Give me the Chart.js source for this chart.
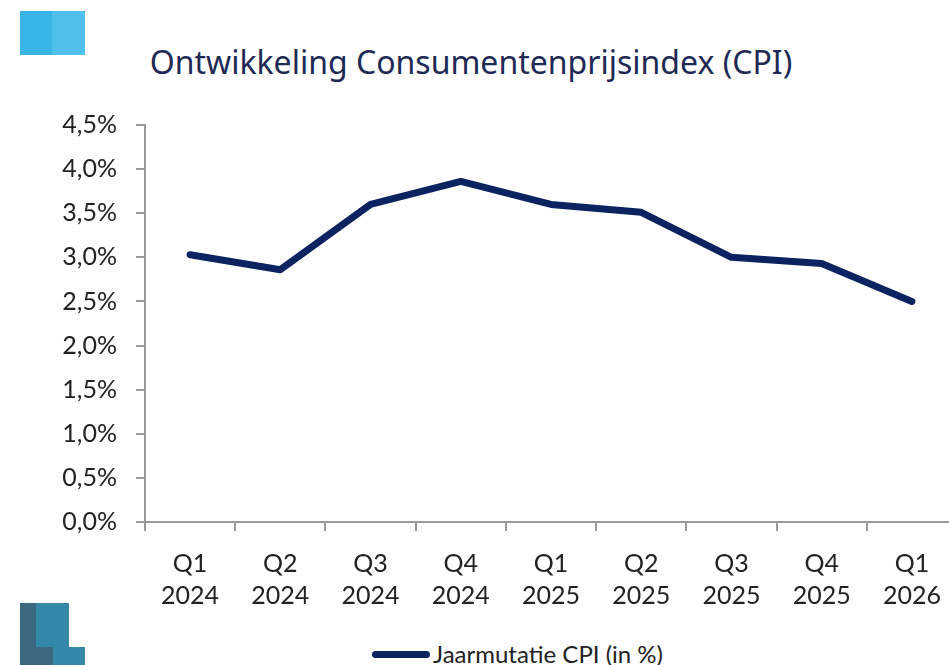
<!DOCTYPE html>
<html>
<head>
<meta charset="utf-8">
<script src="https://cdn.jsdelivr.net/npm/chart.js@4/dist/chart.umd.min.js"></script>
<style>
  html, body { margin: 0; padding: 0; background: #fff; overflow: hidden; }
  body { width: 949px; height: 665px; position: relative; font-family: "Lato", sans-serif; }
  #title { position: absolute; left: 0; width: 942px; top: 40px; text-align: center;
           font-family: "Noto Sans", sans-serif; font-size: 32px; color: #1d2a55; }
  #wrap { position: absolute; left: 0; top: 91px; width: 960px; height: 531px; }
  .logo { position: absolute; }
  #legend { position: absolute; top: 638px; left: 372px; height: 30px; font-size: 24px; color: #222;
            display: flex; align-items: center; }
  #legend span.line { display: inline-block; width: 58px; height: 7px; border-radius: 4px;
                      background: #0b2461; margin-right: 3px; margin-top: 2px; }
</style>
</head>
<body>
<div class="logo" style="left:20px;top:11px;width:32px;height:44px;background:#38b4e5"></div>
<div class="logo" style="left:52px;top:11px;width:33px;height:44px;background:#4fbfeb"></div>
<div class="logo" style="left:20px;top:603px;width:16px;height:44px;background:#3b6a80"></div>
<div class="logo" style="left:36px;top:603px;width:33px;height:44px;background:#3489aa"></div>
<div class="logo" style="left:20px;top:647px;width:33px;height:18px;background:#3b6a80"></div>
<div class="logo" style="left:53px;top:647px;width:32px;height:18px;background:#3489aa"></div>

<div id="title">Ontwikkeling Consumentenprijsindex (CPI)</div>
<div id="wrap"><canvas id="cpiChart"></canvas></div>
<div id="legend"><span class="line"></span>Jaarmutatie CPI (in %)</div>

<script>
var quarters = ['Q1', 'Q2', 'Q3', 'Q4', 'Q1', 'Q2', 'Q3', 'Q4', 'Q1'];
var years = ['2024', '2024', '2024', '2024', '2025', '2025', '2025', '2025', '2026'];
var cpiValues = [3.03, 2.86, 3.6, 3.86, 3.6, 3.51, 3.0, 2.93, 2.5];

var labels = quarters.map(function (q, i) { return [q, years[i]]; });

var ctx = document.getElementById('cpiChart');
var cpiChart = new Chart(ctx, {
  type: 'line',
  data: {
    labels: labels,
    datasets: [{
      label: 'Jaarmutatie CPI (in %)',
      data: cpiValues,
      borderColor: '#0b2461',
      backgroundColor: '#0b2461',
      borderWidth: 7,
      pointRadius: 0,
      borderCapStyle: 'round',
      borderJoinStyle: 'round',
      tension: 0
    }]
  },
  options: {
    responsive: true,
    maintainAspectRatio: false,
    animation: false,
    layout: { padding: { top: 12, right: 3, left: 0, bottom: 0 } },
    plugins: {
      legend: { display: false },
      tooltip: { enabled: false }
    },
    scales: {
      x: {
        offset: true,
        grid: { offset: true, drawOnChartArea: false, tickLength: 9, color: '#999', lineWidth: 2 },
        border: { color: '#999', width: 2 },
        ticks: {
          color: '#222',
          padding: 17,
          maxRotation: 0,
          font: { family: 'Lato', size: 25, lineHeight: 1.28 }
        },
        afterFit: function (scale) { scale.height = 100; }
      },
      y: {
        min: 0,
        max: 4.5,
        grid: { drawOnChartArea: false, tickLength: 9, color: '#999', lineWidth: 2 },
        border: { color: '#999', width: 2 },
        ticks: {
          stepSize: 0.5,
          color: '#222',
          padding: 19,
          font: { family: 'Lato', size: 25 },
          callback: function (v) { return v.toFixed(1).replace('.', ',') + '%'; }
        },
        afterFit: function (scale) { scale.width = 145; }
      }
    }
  }
});
</script>
</body>
</html>
